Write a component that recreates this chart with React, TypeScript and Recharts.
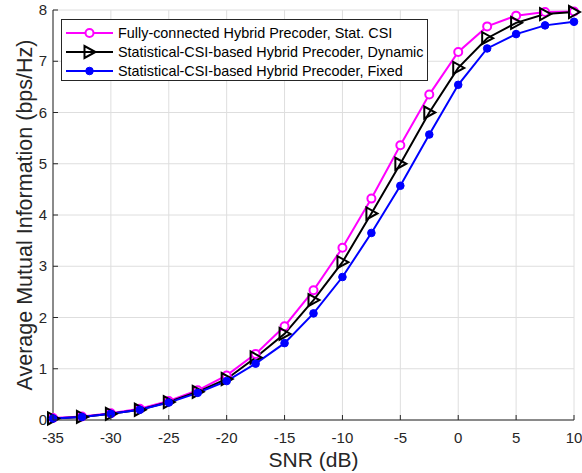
import React from "react";
import { LineChart, Line, XAxis, YAxis, CartesianGrid, Legend } from "recharts";

// SNR grid (dB)
const snr = [-35, -32.5, -30, -27.5, -25, -22.5, -20, -17.5, -15, -12.5, -10, -7.5, -5, -2.5, 0, 2.5, 5, 7.5, 10];

// Average mutual information (bps/Hz) per scheme
const fullyConnected = [0.04, 0.07, 0.13, 0.22, 0.37, 0.58, 0.87, 1.29, 1.83, 2.53, 3.36, 4.32, 5.36, 6.35, 7.18, 7.68, 7.89, 7.96, 7.97];
const dynamicScheme = [0.03, 0.06, 0.12, 0.2, 0.35, 0.55, 0.8, 1.22, 1.68, 2.34, 3.08, 4.03, 5.0, 6.0, 6.87, 7.45, 7.75, 7.92, 7.96];
const fixedScheme = [0.03, 0.06, 0.12, 0.2, 0.34, 0.53, 0.76, 1.1, 1.5, 2.08, 2.79, 3.65, 4.57, 5.57, 6.54, 7.25, 7.53, 7.7, 7.77];

const xTicks = [-35, -30, -25, -20, -15, -10, -5, 0, 5, 10];
const yTicks = [0, 1, 2, 3, 4, 5, 6, 7, 8];

const seriesNames = [
  "Fully-connected Hybrid Precoder, Stat. CSI",
  "Statistical-CSI-based Hybrid Precoder, Dynamic",
  "Statistical-CSI-based Hybrid Precoder, Fixed",
];

const data = snr.map((s, i) => ({
  snr: s,
  fully: fullyConnected[i],
  dynamic: dynamicScheme[i],
  fixed: fixedScheme[i],
}));

const FONT = '"Liberation Sans", Arial, Helvetica, sans-serif';
const AXIS = "#262626";
const BOX = "#555555";
const TICK_LEN = 5;

const BottomTick = (props: any) => {
  const { x, y, payload } = props;
  return (
    <g>
      <line x1={x} y1={y} x2={x} y2={y - TICK_LEN} stroke={AXIS} strokeWidth={1} />
      <text x={x} y={y + 23} textAnchor="middle" fontFamily={FONT} fontSize={15} fill={AXIS}>
        {payload.value}
      </text>
    </g>
  );
};

const LeftTick = (props: any) => {
  const { x, y, payload } = props;
  return (
    <g>
      <line x1={x} y1={y} x2={x + TICK_LEN} y2={y} stroke={AXIS} strokeWidth={1} />
      <text x={x - 6} y={y + 5} textAnchor="end" fontFamily={FONT} fontSize={15} fill={AXIS}>
        {payload.value}
      </text>
    </g>
  );
};

const TopTick = (props: any) => {
  const { x, y } = props;
  return <line x1={x} y1={y} x2={x} y2={y + TICK_LEN} stroke={AXIS} strokeWidth={1} />;
};

const RightTick = (props: any) => {
  const { x, y } = props;
  return <line x1={x} y1={y} x2={x - TICK_LEN} y2={y} stroke={AXIS} strokeWidth={1} />;
};

const TriangleDot = (props: any) => {
  const { cx, cy } = props;
  if (cx == null || cy == null) return null;
  const pts = `${cx - 5},${cy - 6} ${cx - 5},${cy + 6} ${cx + 6},${cy}`;
  return <polygon points={pts} fill="none" stroke="#000" strokeWidth={2} strokeLinejoin="miter" />;
};

const XLabel = (props: any) => {
  const { viewBox } = props;
  const cx = viewBox.x + viewBox.width / 2;
  return (
    <text x={cx} y={viewBox.y + 47} textAnchor="middle" fontFamily={FONT} fontSize={21} fill={AXIS}>
      SNR (dB)
    </text>
  );
};

const YLabel = (props: any) => {
  const { viewBox } = props;
  const bx = viewBox.x + 32;
  const cy = viewBox.y + viewBox.height / 2;
  return (
    <text
      x={bx}
      y={cy}
      transform={`rotate(-90, ${bx}, ${cy})`}
      textAnchor="middle"
      fontFamily={FONT}
      fontSize={21.5}
      fill={AXIS}
    >
      Average Mutual Information (bps/Hz)
    </text>
  );
};

const legendIcons = [
  (cx: number, cy: number) => (
    <>
      <line x1={0} y1={cy} x2={47} y2={cy} stroke="#ff00ff" strokeWidth={2} />
      <circle cx={cx} cy={cy} r={4} fill="#fff" stroke="#ff00ff" strokeWidth={2} />
    </>
  ),
  (cx: number, cy: number) => (
    <>
      <line x1={0} y1={cy} x2={47} y2={cy} stroke="#000" strokeWidth={2} />
      <polygon points={`${cx - 5},${cy - 6} ${cx - 5},${cy + 6} ${cx + 6},${cy}`} fill="none" stroke="#000" strokeWidth={2} />
    </>
  ),
  (cx: number, cy: number) => (
    <>
      <line x1={0} y1={cy} x2={47} y2={cy} stroke="#0000ff" strokeWidth={2} />
      <circle cx={cx} cy={cy} r={3.8} fill="#0000ff" stroke="#0000ff" strokeWidth={1} />
    </>
  ),
];

const LegendBox = () => (
  <div
    style={{
      border: `1px solid ${AXIS}`,
      background: "#fff",
      width: 365,
      height: 57,
      boxSizing: "content-box",
      paddingTop: 3,
      fontFamily: FONT,
      fontSize: 14.4,
      color: "#000",
    }}
  >
    {seriesNames.map((name, i) => (
      <div key={name} style={{ display: "flex", alignItems: "center", height: 19 }}>
        <svg width={47} height={14} style={{ marginLeft: 4, marginRight: 5, overflow: "visible" }}>
          {legendIcons[i](23.5, 7)}
        </svg>
        <span style={{ whiteSpace: "nowrap" }}>{name}</span>
      </div>
    ))}
  </div>
);

export default function App() {
  return (
    <div style={{ position: "absolute", left: 0, top: 0, width: 582, height: 473, background: "#fff" }}>
      <LineChart width={582} height={473} data={data} margin={{ top: 10, right: 8, bottom: 0, left: 0 }}>
        <CartesianGrid stroke="#dedede" strokeWidth={1} />
        <XAxis
          dataKey="snr"
          type="number"
          domain={[-35, 10]}
          ticks={xTicks}
          height={53}
          tickSize={0}
          tickMargin={0}
          tick={<BottomTick />}
          axisLine={{ stroke: AXIS, strokeWidth: 1 }}
          label={<XLabel />}
          interval={0}
        />
        <XAxis
          xAxisId="top"
          dataKey="snr"
          type="number"
          orientation="top"
          domain={[-35, 10]}
          ticks={xTicks}
          height={0}
          tickSize={0}
          tickMargin={0}
          tick={<TopTick />}
          axisLine={{ stroke: BOX, strokeWidth: 1 }}
          interval={0}
        />
        <YAxis
          type="number"
          domain={[0, 8]}
          ticks={yTicks}
          width={53}
          tickSize={0}
          tickMargin={0}
          tick={<LeftTick />}
          axisLine={{ stroke: AXIS, strokeWidth: 1 }}
          label={<YLabel />}
          interval={0}
        />
        <YAxis
          yAxisId="right"
          type="number"
          orientation="right"
          domain={[0, 8]}
          ticks={yTicks}
          width={0}
          tickSize={0}
          tickMargin={0}
          tick={<RightTick />}
          axisLine={{ stroke: BOX, strokeWidth: 1 }}
          interval={0}
        />
        <Legend
          verticalAlign="middle"
          align="center"
          layout="horizontal"
          content={<LegendBox />}
          wrapperStyle={{ position: "absolute", left: 61, top: 19, width: 367, height: 62 }}
        />
        <Line
          dataKey="fully"
          name={seriesNames[0]}
          stroke="#ff00ff"
          strokeWidth={2}
          dot={{ r: 4, fill: "#fff", stroke: "#ff00ff", strokeWidth: 2 }}
          activeDot={false}
          isAnimationActive={false}
        />
        <Line
          dataKey="dynamic"
          name={seriesNames[1]}
          stroke="#000"
          strokeWidth={2}
          dot={<TriangleDot />}
          activeDot={false}
          isAnimationActive={false}
        />
        <Line
          dataKey="fixed"
          name={seriesNames[2]}
          stroke="#0000ff"
          strokeWidth={2}
          dot={{ r: 3.8, fill: "#0000ff", stroke: "#0000ff", strokeWidth: 1 }}
          activeDot={false}
          isAnimationActive={false}
        />
      </LineChart>
    </div>
  );
}
